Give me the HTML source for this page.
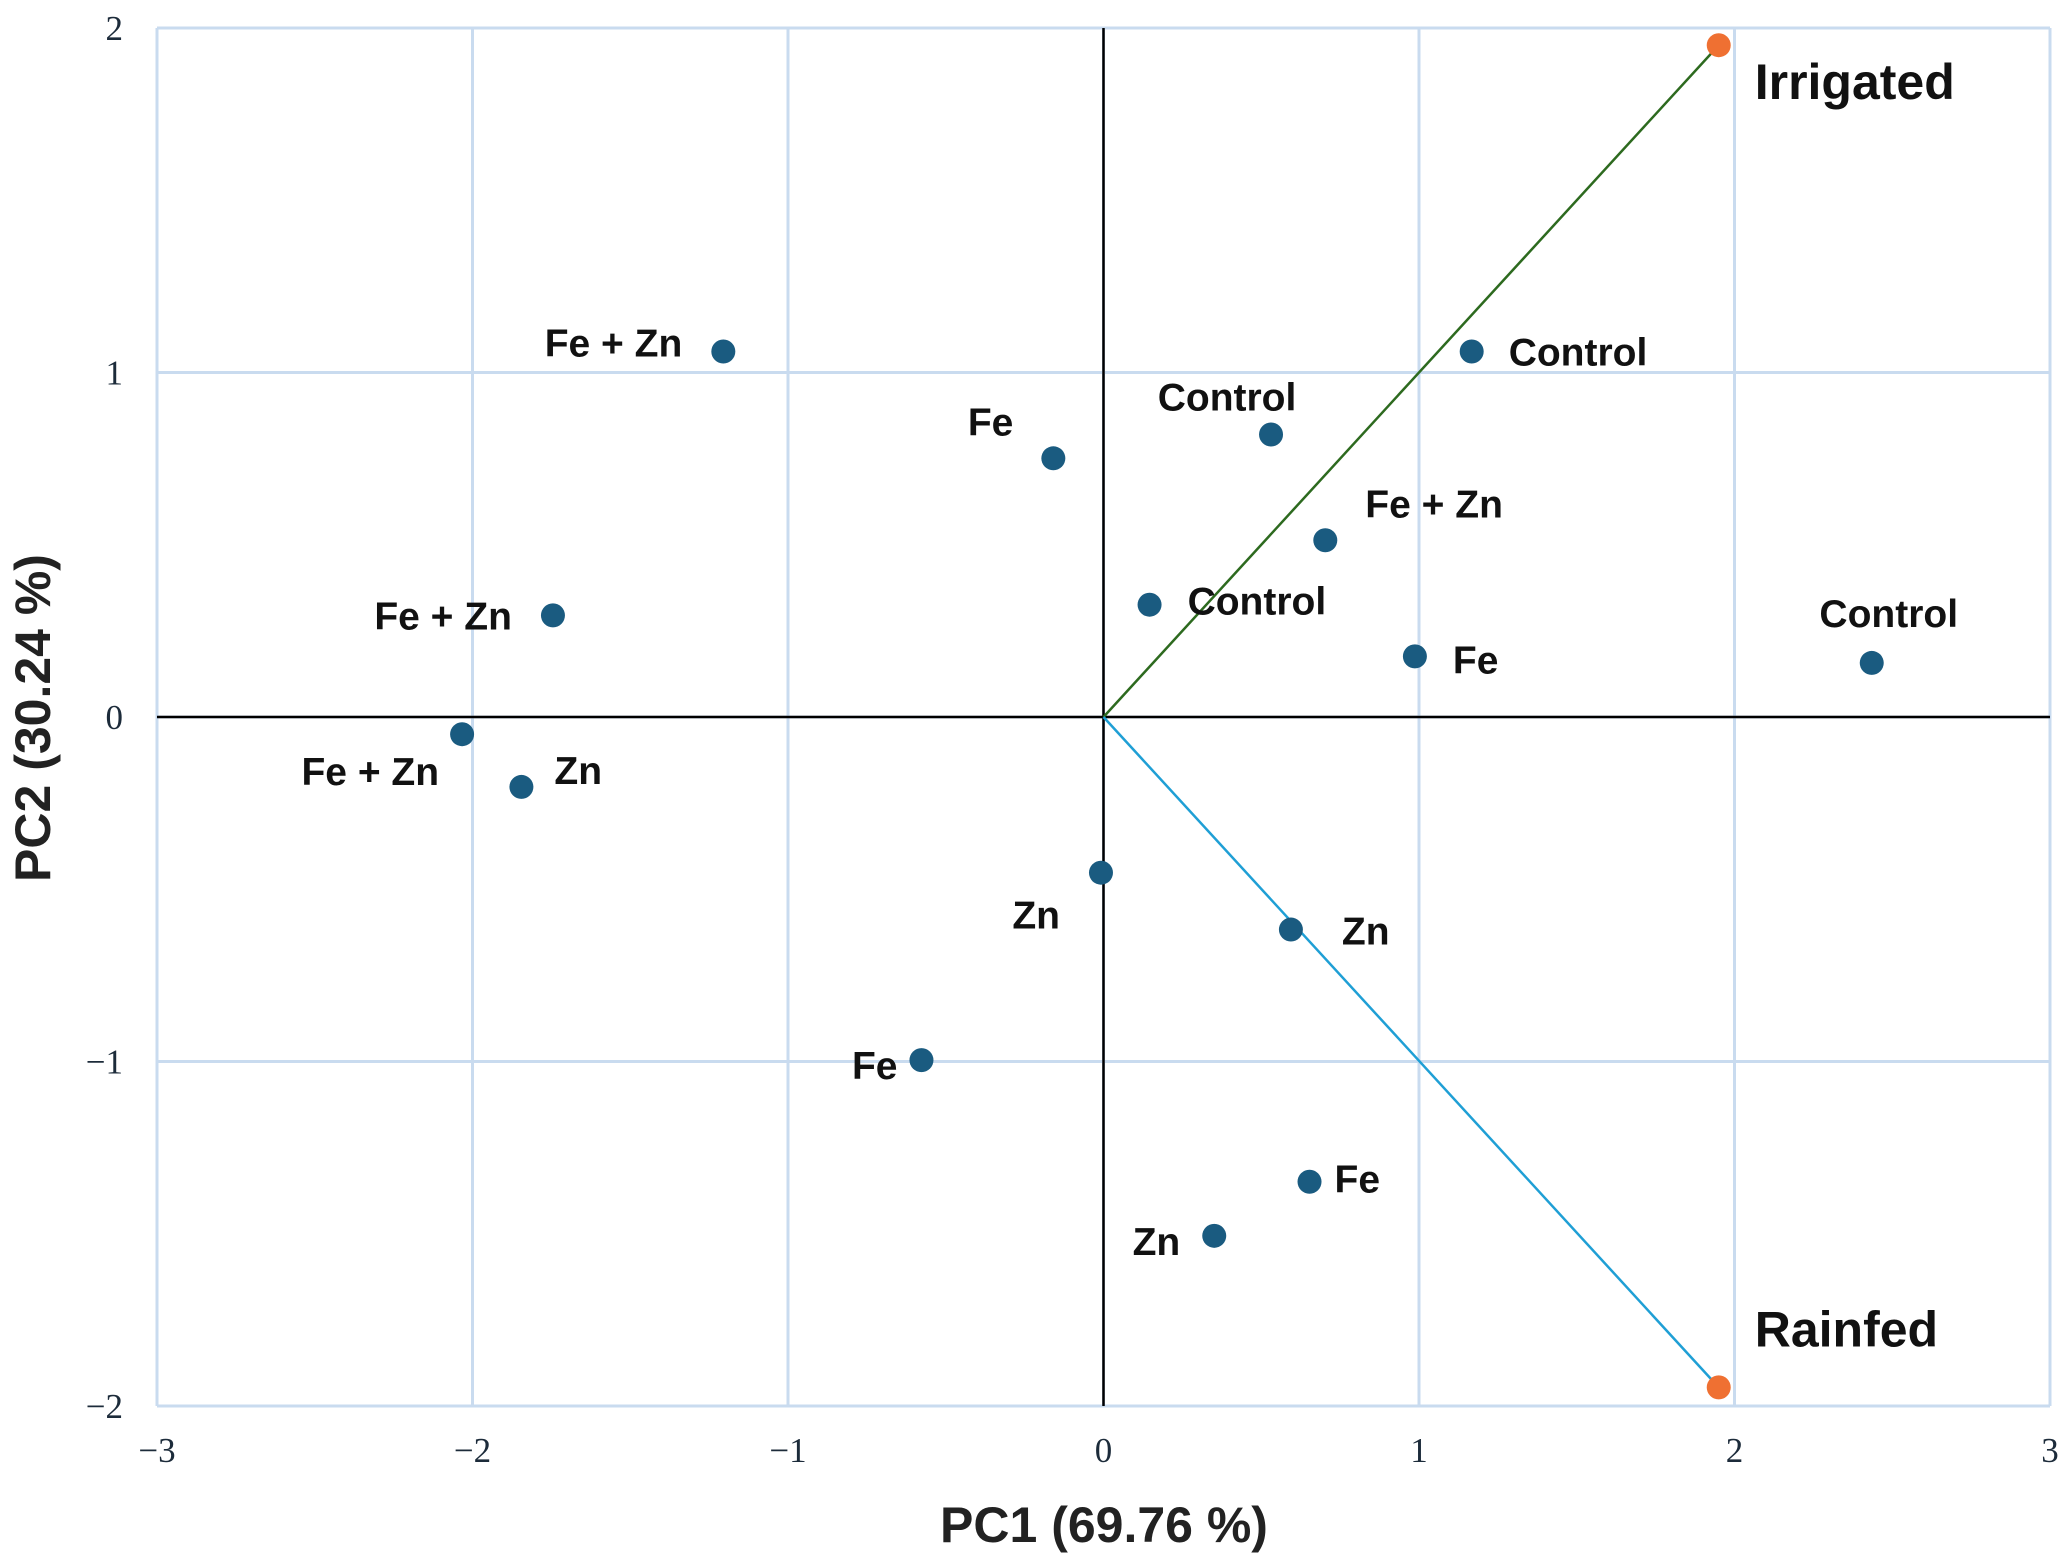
<!DOCTYPE html>
<html><head><meta charset="utf-8"><style>
html,body{margin:0;padding:0;background:#fff;}
svg{display:block;}
.tick{font-family:"Liberation Serif",serif;font-size:35px;fill:#1c2b3a;}
.lbl{font-family:"Liberation Sans",sans-serif;font-weight:bold;font-size:39px;fill:#111;}
.big{font-family:"Liberation Sans",sans-serif;font-weight:bold;font-size:50px;fill:#111;}
.title{font-family:"Liberation Sans",sans-serif;font-weight:bold;font-size:50px;fill:#222;}
</style></head><body>
<svg id="chart" width="2070" height="1562" viewBox="0 0 2070 1562" xmlns="http://www.w3.org/2000/svg">
<g id="grid"></g>
<g id="axes"></g>
<g id="vectors"></g>
<g id="points"></g>
<text class="title" x="1104" y="1542" text-anchor="middle">PC1 (69.76 %)</text>
<text class="title" transform="translate(50,718) rotate(-90)" text-anchor="middle">PC2 (30.24 %)</text>
</svg>
<script>
const xTicks = [-3, -2, -1, 0, 1, 2, 3];
const yTicks = [-2, -1, 0, 1, 2];
const xTickLabels = ["\u22123", "\u22122", "\u22121", "0", "1", "2", "3"];
const yTickLabels = ["\u22122", "\u22121", "0", "1", "2"];
const pointLabels = ["Fe + Zn","Fe","Control","Control","Fe + Zn","Control","Fe","Control","Fe + Zn","Fe + Zn","Zn","Zn","Zn","Fe","Fe","Zn"];
const pc1Values = [-1.205,-0.159,0.531,1.167,0.703,0.146,0.987,2.435,-1.745,-2.033,-1.845,-0.008,0.594,-0.577,0.653,0.351];
const pc2Values = [1.061,0.751,0.820,1.061,0.513,0.326,0.176,0.157,0.295,-0.050,-0.203,-0.452,-0.617,-0.996,-1.349,-1.506];
const vectorNames = ["Irrigated","Rainfed"];
const vectorPC1 = [1.95, 1.95];
const vectorPC2 = [1.95, -1.946];

const X0=157, X1=2050, Y0=1406, Y1=28;
const sx = v => X0 + (v + 3) / 6 * (X1 - X0);
const sy = v => Y0 - (v + 2) / 4 * (Y0 - Y1);
const NS="http://www.w3.org/2000/svg";
function mk(tag, attrs, parent){const e=document.createElementNS(NS,tag);for(const k in attrs)e.setAttribute(k,attrs[k]);parent.appendChild(e);return e;}
const grid=document.getElementById('grid'), axes=document.getElementById('axes'), vec=document.getElementById('vectors'), pts=document.getElementById('points'), svg=document.getElementById('chart');

xTicks.forEach((t,i)=>{
  const l=mk('line',{x1:sx(t),x2:sx(t),y1:Y1,y2:Y0,stroke:'#c9dbef','stroke-width':3},grid);
  
  
  const tx=mk('text',{x:sx(t),y:1462,'text-anchor':'middle',class:'tick'},svg);
  tx.textContent=xTickLabels[i];
  
  
});
yTicks.forEach((t,i)=>{
  const l=mk('line',{x1:X0,x2:X1,y1:sy(t),y2:sy(t),stroke:'#c9dbef','stroke-width':3},grid);
  
  
  const tx=mk('text',{x:123,y:sy(t)+12,'text-anchor':'end',class:'tick'},svg);
  tx.textContent=yTickLabels[i];
  
  
});
const ax=mk('line',{x1:X0,x2:X1,y1:sy(0),y2:sy(0),stroke:'#000','stroke-width':2.5},axes);


const ay=mk('line',{x1:sx(0),x2:sx(0),y1:Y1,y2:Y0,stroke:'#000','stroke-width':2.5},axes);



const vColors=['#2d6a1f','#1f9fd5'];
const vLabelDy=[38,-57];
vectorNames.forEach((n,i)=>{
  const l=mk('line',{x1:sx(0),y1:sy(0),x2:sx(vectorPC1[i]),y2:sy(vectorPC2[i]),stroke:vColors[i],'stroke-width':2.5},vec);
  
  
  const c=mk('circle',{cx:sx(vectorPC1[i]),cy:sy(vectorPC2[i]),r:12,fill:'#ef7032'},vec);
  
  
  const t=mk('text',{x:sx(vectorPC1[i])+36,y:sy(vectorPC2[i])+vLabelDy[i]+16,class:'big'},vec);
  t.textContent=n;
  
  
});

// label offsets [dx, dy, anchor] in px
const lblOff=[[-41,-9,'end'],[-40,-37,'end'],[-44,-38,'middle'],[37,0,'start'],[40,-37,'start'],[38,-4,'start'],[38,3,'start'],[17,-50,'middle'],[-41,0,'end'],[-23,37,'end'],[33,-17,'start'],[-41,42,'end'],[51,1,'start'],[-24,5,'end'],[25,-3,'start'],[-34,5,'end']];
pointLabels.forEach((n,i)=>{
  const cx=sx(pc1Values[i]), cy=sy(pc2Values[i]);
  const c=mk('circle',{cx:cx,cy:cy,r:12,fill:'#1a5b80'},pts);
  
  
  const o=lblOff[i];
  const t=mk('text',{x:cx+o[0],y:cy+o[1]+14,'text-anchor':o[2],class:'lbl'},pts);
  t.textContent=n;
  
  
});
</script>
</body></html>
